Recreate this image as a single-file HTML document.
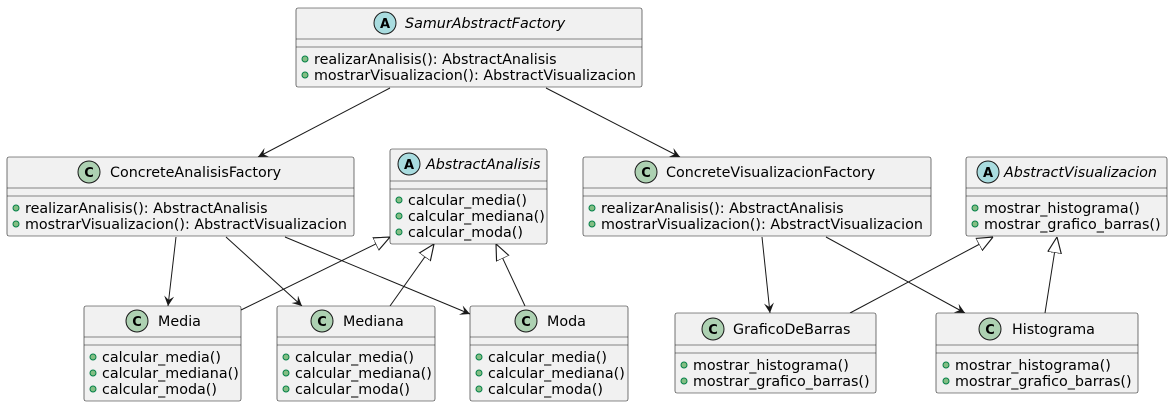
<!DOCTYPE html>
<html><head><meta charset="utf-8"><style>
html,body{margin:0;padding:0;background:#fff;width:1173px;height:407px;overflow:hidden}
svg text{font-family:"DejaVu Sans","Liberation Sans",sans-serif;font-size:14.3px;fill:#000}
.b{fill:#F1F1F1;stroke:#181818;stroke-width:0.6}
.s{stroke:#181818;stroke-width:0.6}
.l{stroke:#181818;stroke-width:1;fill:none}
.ca{fill:#A9DCDF;stroke:#181818;stroke-width:1}
.cc{fill:#ADD1B2;stroke:#181818;stroke-width:1}
.d{fill:#84BE84;stroke:#038048;stroke-width:1}
svg text.lt{font-weight:bold;font-size:13px}
</style></head><body>
<svg width="1173" height="407" xmlns="http://www.w3.org/2000/svg">
<defs>
<marker id="ar" viewBox="0 0 10 10" refX="10" refY="5" markerWidth="10" markerHeight="10" orient="auto" markerUnits="userSpaceOnUse"><path d="M0,0 L10,5 L0,10 L4,5 Z" fill="#181818"/></marker>
<marker id="tr" viewBox="0 0 14 14" refX="14" refY="7" markerWidth="16" markerHeight="16" orient="auto" markerUnits="userSpaceOnUse"><path d="M0,1 L14,7 L0,13 Z" fill="#fff" stroke="#181818" stroke-width="1"/></marker>
</defs>

<line class="l" x1="390" y1="88" x2="258" y2="157" marker-end="url(#ar)"/>
<line class="l" x1="546" y1="88" x2="680" y2="157" marker-end="url(#ar)"/>
<line class="l" x1="176" y1="237" x2="168" y2="306" marker-end="url(#ar)"/>
<line class="l" x1="226" y1="237" x2="302" y2="306" marker-end="url(#ar)"/>
<line class="l" x1="285" y1="237" x2="470" y2="314" marker-end="url(#ar)"/>
<line class="l" x1="241" y1="310" x2="390" y2="237" marker-end="url(#tr)"/>
<line class="l" x1="390" y1="306" x2="434" y2="244" marker-end="url(#tr)"/>
<line class="l" x1="525" y1="306" x2="496" y2="244" marker-end="url(#tr)"/>
<line class="l" x1="762" y1="237" x2="770" y2="313" marker-end="url(#ar)"/>
<line class="l" x1="826" y1="237" x2="965" y2="313" marker-end="url(#ar)"/>
<line class="l" x1="850" y1="313" x2="993" y2="237" marker-end="url(#tr)"/>
<line class="l" x1="1045" y1="313" x2="1057" y2="237" marker-end="url(#tr)"/>

<rect class="b" x="296" y="8" width="346" height="79" rx="2"/>
<line class="s" x1="296" y1="39" x2="642" y2="39"/><line class="s" x1="296" y1="47" x2="642" y2="47"/>
<circle class="ca" cx="385" cy="23" r="11"/><text class="lt" x="385" y="28" text-anchor="middle">A</text>
<text x="405" y="28" font-style="italic">SamurAbstractFactory</text>
<circle class="d" cx="305" cy="59" r="3"/><text x="314" y="64">realizarAnalisis(): AbstractAnalisis</text>
<circle class="d" cx="305" cy="75" r="3"/><text x="314" y="80">mostrarVisualizacion(): AbstractVisualizacion</text>

<rect class="b" x="7" y="157" width="347" height="79" rx="2"/>
<line class="s" x1="7" y1="188" x2="354" y2="188"/><line class="s" x1="7" y1="196" x2="354" y2="196"/>
<circle class="cc" cx="89" cy="172" r="11"/><text class="lt" x="89" y="177" text-anchor="middle">C</text>
<text x="110" y="177">ConcreteAnalisisFactory</text>
<circle class="d" cx="16" cy="208" r="3"/><text x="25" y="213">realizarAnalisis(): AbstractAnalisis</text>
<circle class="d" cx="16" cy="224" r="3"/><text x="25" y="229">mostrarVisualizacion(): AbstractVisualizacion</text>

<rect class="b" x="390" y="149" width="157" height="95" rx="2"/>
<line class="s" x1="390" y1="181" x2="547" y2="181"/><line class="s" x1="390" y1="189" x2="547" y2="189"/>
<circle class="ca" cx="409" cy="164" r="11"/><text class="lt" x="409" y="169" text-anchor="middle">A</text>
<text x="426" y="169" font-style="italic">AbstractAnalisis</text>
<circle class="d" cx="399" cy="200" r="3"/><text x="408" y="205">calcular_media()</text>
<circle class="d" cx="399" cy="216" r="3"/><text x="408" y="221">calcular_mediana()</text>
<circle class="d" cx="399" cy="232" r="3"/><text x="408" y="237">calcular_moda()</text>

<rect class="b" x="583" y="157" width="348" height="79" rx="2"/>
<line class="s" x1="583" y1="188" x2="931" y2="188"/><line class="s" x1="583" y1="196" x2="931" y2="196"/>
<circle class="cc" cx="646" cy="172" r="11"/><text class="lt" x="646" y="177" text-anchor="middle">C</text>
<text x="666" y="177">ConcreteVisualizacionFactory</text>
<circle class="d" cx="592" cy="208" r="3"/><text x="601" y="213">realizarAnalisis(): AbstractAnalisis</text>
<circle class="d" cx="592" cy="224" r="3"/><text x="601" y="229">mostrarVisualizacion(): AbstractVisualizacion</text>

<rect class="b" x="966" y="157" width="201" height="79" rx="2"/>
<line class="s" x1="966" y1="188" x2="1167" y2="188"/><line class="s" x1="966" y1="196" x2="1167" y2="196"/>
<circle class="ca" cx="988" cy="172" r="11"/><text class="lt" x="988" y="177" text-anchor="middle">A</text>
<text x="1004" y="177" font-style="italic">AbstractVisualizacion</text>
<circle class="d" cx="975" cy="208" r="3"/><text x="984" y="213">mostrar_histograma()</text>
<circle class="d" cx="975" cy="224" r="3"/><text x="984" y="229">mostrar_grafico_barras()</text>

<rect class="b" x="84" y="306" width="157" height="95" rx="2"/>
<line class="s" x1="84" y1="337" x2="241" y2="337"/><line class="s" x1="84" y1="345" x2="241" y2="345"/>
<circle class="cc" cx="137" cy="321" r="11"/><text class="lt" x="137" y="326" text-anchor="middle">C</text>
<text x="158" y="326">Media</text>
<circle class="d" cx="93" cy="357" r="3"/><text x="102" y="362">calcular_media()</text>
<circle class="d" cx="93" cy="373" r="3"/><text x="102" y="378">calcular_mediana()</text>
<circle class="d" cx="93" cy="389" r="3"/><text x="102" y="394">calcular_moda()</text>

<rect class="b" x="277" y="306" width="158" height="95" rx="2"/>
<line class="s" x1="277" y1="337" x2="435" y2="337"/><line class="s" x1="277" y1="345" x2="435" y2="345"/>
<circle class="cc" cx="322" cy="321" r="11"/><text class="lt" x="322" y="326" text-anchor="middle">C</text>
<text x="343" y="326">Mediana</text>
<circle class="d" cx="286" cy="357" r="3"/><text x="295" y="362">calcular_media()</text>
<circle class="d" cx="286" cy="373" r="3"/><text x="295" y="378">calcular_mediana()</text>
<circle class="d" cx="286" cy="389" r="3"/><text x="295" y="394">calcular_moda()</text>

<rect class="b" x="470" y="306" width="158" height="95" rx="2"/>
<line class="s" x1="470" y1="337" x2="628" y2="337"/><line class="s" x1="470" y1="345" x2="628" y2="345"/>
<circle class="cc" cx="526" cy="321" r="11"/><text class="lt" x="526" y="326" text-anchor="middle">C</text>
<text x="547" y="326">Moda</text>
<circle class="d" cx="479" cy="357" r="3"/><text x="488" y="362">calcular_media()</text>
<circle class="d" cx="479" cy="373" r="3"/><text x="488" y="378">calcular_mediana()</text>
<circle class="d" cx="479" cy="389" r="3"/><text x="488" y="394">calcular_moda()</text>

<rect class="b" x="675" y="313" width="201" height="80" rx="2"/>
<line class="s" x1="675" y1="345" x2="876" y2="345"/><line class="s" x1="675" y1="353" x2="876" y2="353"/>
<circle class="cc" cx="713" cy="329" r="11"/><text class="lt" x="713" y="334" text-anchor="middle">C</text>
<text x="733" y="334">GraficoDeBarras</text>
<circle class="d" cx="684" cy="365" r="3"/><text x="693" y="370">mostrar_histograma()</text>
<circle class="d" cx="684" cy="381" r="3"/><text x="693" y="386">mostrar_grafico_barras()</text>

<rect class="b" x="936" y="313" width="202" height="80" rx="2"/>
<line class="s" x1="936" y1="345" x2="1138" y2="345"/><line class="s" x1="936" y1="353" x2="1138" y2="353"/>
<circle class="cc" cx="990" cy="329" r="11"/><text class="lt" x="990" y="334" text-anchor="middle">C</text>
<text x="1012" y="334">Histograma</text>
<circle class="d" cx="946" cy="365" r="3"/><text x="955" y="370">mostrar_histograma()</text>
<circle class="d" cx="946" cy="381" r="3"/><text x="955" y="386">mostrar_grafico_barras()</text>
</svg>
</body></html>
